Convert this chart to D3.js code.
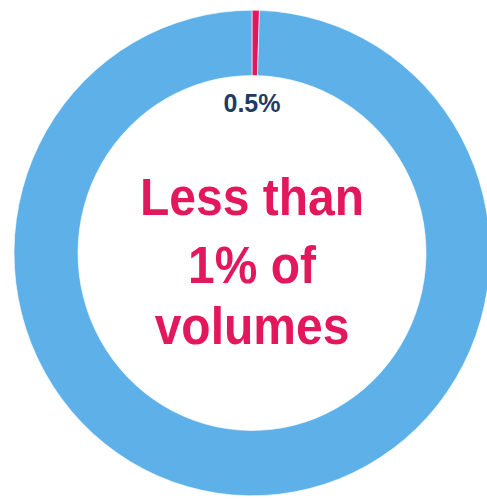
<!DOCTYPE html>
<html lang="en">
<head>
    <meta charset="UTF-8">
    <title>Less than 1% of volumes</title>
    <script src="https://d3js.org/d3.v7.min.js"></script>
    <style>
        html, body {
            margin: 0;
            padding: 0;
            background: #ffffff;
        }
        text {
            font-family: "Liberation Sans", Arial, sans-serif;
            font-weight: bold;
        }
    </style>
</head>
<body>
    <div id="chart-container"></div>

    <script>
        // data
        const categories = ["Share", "Rest"];
        const shares = [0.5, 99.5];
        const sliceLabels = ["0.5%", ""];
        const centerLines = ["Less than", "1% of", "volumes"];

        const width = 487;
        const height = 499;
        const cx = 252, cy = 253;
        const outerR = 238, innerR = 174;

        const colors = d3.scaleOrdinal()
            .domain(categories)
            .range(["#e3175b", "#5eb0e8"]);

        const svg = d3.select("#chart-container")
            .append("svg")
            .attr("width", width)
            .attr("height", height);

        const g = svg.append("g")
            .attr("transform", `translate(${cx}, ${cy}) scale(1, 1.02)`);

        const pie = d3.pie().sort(null).value(d => d.value);
        const arc = d3.arc().innerRadius(innerR).outerRadius(outerR);

        const slices = pie(categories.map((c, i) => ({ name: c, value: shares[i], label: sliceLabels[i] })));

        g.selectAll("path")
            .data(slices)
            .enter()
            .append("path")
            .attr("d", arc)
            .attr("fill", d => colors(d.data.name))
            .attr("stroke", "#ffffff")
            .attr("stroke-width", 0.6);

        // percentage label just inside the ring, under the small slice
        svg.append("text")
            .attr("x", cx)
            .attr("y", 112)
            .attr("text-anchor", "middle")
            .attr("font-size", 25)
            .attr("fill", "#1f3b63")
            .text(slices[0].data.label);

        // big caption in the hole
        const baselines = [215, 283, 344];
        svg.selectAll(".caption")
            .data(centerLines)
            .enter()
            .append("text")
            .attr("class", "caption")
            .attr("transform", (d, i) => `translate(${cx}, ${baselines[i]}) scale(1, 1.08)`)
            .attr("text-anchor", "middle")
            .attr("font-size", 48)
            .attr("fill", "#e3175b")
            .text(d => d);
    </script>
</body>
</html>
